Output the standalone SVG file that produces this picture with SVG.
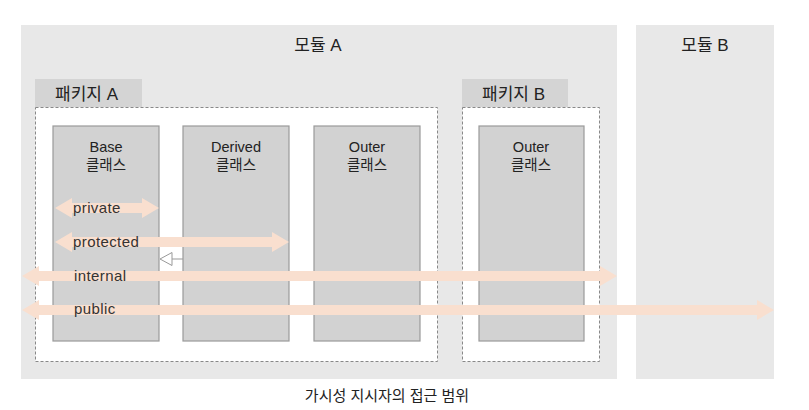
<svg xmlns="http://www.w3.org/2000/svg" width="809" height="410" viewBox="0 0 809 410">
<style>
text{font-family:"Liberation Sans","Noto Sans CJK KR",sans-serif;fill:#222}
.mod{fill:#e8e8e8}
.tab{fill:#d4d4d4}
.pkg{fill:#fff;stroke:#888;stroke-width:1;stroke-dasharray:3 2}
.cls{fill:#d2d2d2;stroke:#9a9a9a;stroke-width:1.2}
.t16{font-size:17px}
.t13{font-size:14.5px}
.arr{fill:#f9dfcf}
.lbl{font-size:15px;fill:#333;letter-spacing:0.4px}
</style>
<g id="moduleA"><rect class="mod" x="21" y="25" width="596" height="354"/><text class="t16" x="318" y="51" text-anchor="middle">모듈 A</text></g>
<g id="moduleB"><rect class="mod" x="636" y="25" width="138" height="354"/><text class="t16" x="705" y="51" text-anchor="middle">모듈 B</text></g>
<g id="packageA"><rect class="tab" x="35" y="79" width="107" height="28"/><text class="t16" x="55" y="100">패키지 A</text><rect class="pkg" x="35.5" y="107.5" width="402" height="254"/></g>
<g id="packageB"><rect class="tab" x="462" y="79" width="106" height="28"/><text class="t16" x="482" y="100">패키지 B</text><rect class="pkg" x="462.5" y="107.5" width="137" height="254"/></g>
<g id="baseClass"><rect class="cls" x="53" y="126" width="106" height="215"/><text class="t13" x="106" y="152" text-anchor="middle">Base</text><text class="t13" x="106" y="170" text-anchor="middle">클래스</text></g>
<g id="derivedClass"><rect class="cls" x="183" y="126" width="106" height="215"/><text class="t13" x="236" y="152" text-anchor="middle">Derived</text><text class="t13" x="236" y="170" text-anchor="middle">클래스</text></g>
<g id="outerClassA"><rect class="cls" x="314" y="126" width="106" height="215"/><text class="t13" x="367" y="152" text-anchor="middle">Outer</text><text class="t13" x="367" y="170" text-anchor="middle">클래스</text></g>
<g id="outerClassB"><rect class="cls" x="479" y="126" width="105" height="215"/><text class="t13" x="531" y="152" text-anchor="middle">Outer</text><text class="t13" x="531" y="170" text-anchor="middle">클래스</text></g>
<g id="connectors">
<polygon class="arr" points="55,208 72,198 72,203 142,203 142,198 159,208 142,218 142,213 72,213 72,218"/>
<polygon class="arr" points="55,242 72,232 72,237 272,237 272,232 289,242 272,252 272,247 72,247 72,252"/>
<polygon class="arr" points="22,276 39,266 39,271 600,271 600,266 617,276 600,286 600,281 39,281 39,286"/>
<polygon class="arr" points="22,310 39,300 39,305 757,305 757,300 774,310 757,320 757,315 39,315 39,320"/>
<line x1="172" y1="259" x2="183" y2="259" stroke="#999" stroke-width="1"/>
<polygon points="160,259 172,252.5 172,265.5" fill="#fff" stroke="#999" stroke-width="1"/>
<text class="lbl" x="73" y="213">private</text>
<text class="lbl" x="73" y="247">protected</text>
<text class="lbl" x="74" y="281">internal</text>
<text class="lbl" x="74" y="314">public</text>
</g>
<text class="t13" x="387" y="401" text-anchor="middle" style="font-size:15px">가시성 지시자의 접근 범위</text>
</svg>
